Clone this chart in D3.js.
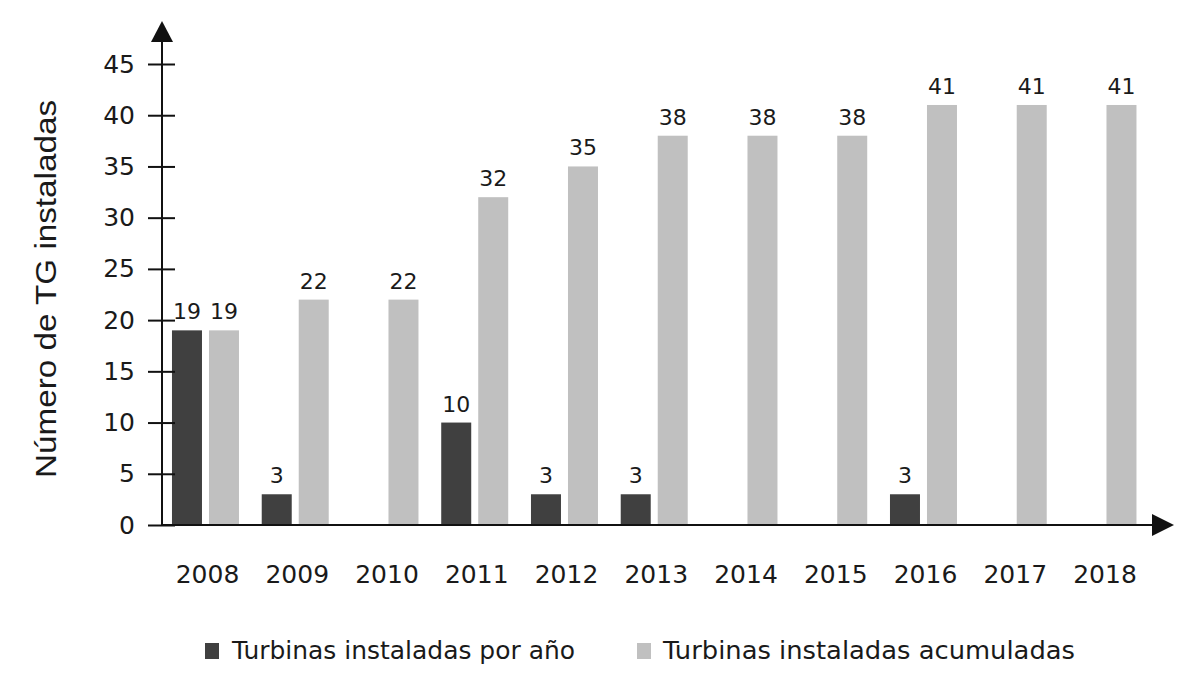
<!DOCTYPE html>
<html>
<head>
<meta charset="utf-8">
<script src="https://cdn.jsdelivr.net/npm/d3@7"></script>
<style>
  body { margin: 0; background: #fff; }
  svg { display: block; }
  .tick text { font-family: "DejaVu Sans", Verdana, sans-serif; fill: #1a1a1a; }
</style>
</head>
<body>
<div id="chart"></div>
<script>
const years = ["2008", "2009", "2010", "2011", "2012", "2013", "2014", "2015", "2016", "2017", "2018"];
const porAno = [19, 3, 0, 10, 3, 3, 0, 0, 3, 0, 0];
const acumuladas = [19, 22, 22, 32, 35, 38, 38, 38, 41, 41, 41];
const yTicks = [0, 5, 10, 15, 20, 25, 30, 35, 40, 45];
const seriesNames = ["Turbinas instaladas por año", "Turbinas instaladas acumuladas"];
const seriesColors = ["#404040", "#c0c0c0"];

const width = 1185;
const height = 691;
const axisX = 162;
const axisY = 525;

const data = years.map(function(y, i) {
	return { year: y, values: [porAno[i], acumuladas[i]] };
});

const svg = d3.select("#chart").append("svg")
		.attr("width", width)
		.attr("height", height);

const x = d3.scaleBand()
		.domain(years)
		.range([axisX - 1.4, axisX - 1.4 + 89.75 * years.length]);

const xSub = d3.scaleBand()
		.domain([0, 1])
		.range([-33.5, 33.5])
		.paddingInner(7 / 37);

const y = d3.scaleLinear()
		.domain([0, 45])
		.range([axisY, 64]);

// bars
const groups = svg.append("g")
	.selectAll("g")
	.data(data).enter()
	.append("g")
		.attr("transform", function(d) { return `translate(${x(d.year) + x.bandwidth() / 2}, 0)`; });

groups.selectAll("rect")
	.data(function(d) { return d.values.map(function(v, k) { return { k: k, v: v }; }); })
	.enter().append("rect")
		.attr("x", function(d) { return xSub(d.k); })
		.attr("width", xSub.bandwidth())
		.attr("y", function(d) { return y(d.v); })
		.attr("height", function(d) { return y(0) - y(d.v); })
		.style("fill", function(d) { return seriesColors[d.k]; });

groups.selectAll("text")
	.data(function(d) { return d.values.map(function(v, k) { return { k: k, v: v }; }).filter(function(d) { return d.v > 0; }); })
	.enter().append("text")
		.attr("x", function(d) { return xSub(d.k) + xSub.bandwidth() / 2; })
		.attr("y", function(d) { return y(d.v) - 11; })
		.attr("text-anchor", "middle")
		.style("font-family", "'DejaVu Sans', Verdana, sans-serif")
		.style("font-size", "22px")
		.style("fill", "#1a1a1a")
		.text(function(d) { return d.v; });

// y axis
const yAxis = svg.append("g")
		.attr("transform", `translate(${axisX}, 0)`)
		.call(d3.axisLeft(y).tickValues(yTicks).tickSize(14).tickPadding(13));
yAxis.select(".domain").remove();
yAxis.selectAll(".tick line")
		.attr("x1", 13)
		.attr("stroke", "#111")
		.attr("stroke-width", 2);
yAxis.selectAll(".tick text")
		.style("font-size", "25px");

// x axis
const xAxis = svg.append("g")
		.attr("transform", `translate(0, ${axisY})`)
		.call(d3.axisBottom(x).tickSize(0));
xAxis.select(".domain").remove();
xAxis.selectAll(".tick text")
		.attr("y", 58)
		.attr("dy", null)
		.attr("dx", 2)
		.style("font-size", "25px");

// axis lines with arrows
svg.append("line")
		.attr("x1", axisX).attr("y1", axisY + 1)
		.attr("x2", axisX).attr("y2", 40)
		.attr("stroke", "#111").attr("stroke-width", 2);
svg.append("line")
		.attr("x1", axisX - 1).attr("y1", axisY)
		.attr("x2", 1155).attr("y2", axisY)
		.attr("stroke", "#111").attr("stroke-width", 2);
svg.append("path")
		.attr("d", d3.line()([[axisX - 11, 42], [axisX, 21], [axisX + 11, 42]]) + "Z")
		.attr("fill", "#111");
svg.append("path")
		.attr("d", d3.line()([[1152, axisY - 11], [1174, axisY], [1152, axisY + 11]]) + "Z")
		.attr("fill", "#111");

// y title
svg.append("text")
		.attr("transform", "translate(56, 289) rotate(-90)")
		.attr("text-anchor", "middle")
		.attr("textLength", 378)
		.attr("lengthAdjust", "spacingAndGlyphs")
		.style("font-family", "'Liberation Sans', Arial, sans-serif")
		.style("font-size", "30px")
		.style("fill", "#1a1a1a")
		.text("Número de TG instaladas");

// legend
const legendX = [205, 637];
const legend = svg.append("g")
	.selectAll("g")
	.data(seriesNames).enter()
	.append("g")
		.attr("transform", function(d, i) { return `translate(${legendX[i]}, 643)`; });

legend.append("rect")
		.attr("width", 14)
		.attr("height", 16)
		.style("fill", function(d, i) { return seriesColors[i]; });

legend.append("text")
		.attr("x", function(d, i) { return i === 0 ? 27 : 26; })
		.attr("y", 16)
		.attr("textLength", function(d, i) { return i === 0 ? 343 : 412; })
		.attr("lengthAdjust", "spacingAndGlyphs")
		.style("font-family", "'DejaVu Sans', Verdana, sans-serif")
		.style("font-size", "24px")
		.style("fill", "#1a1a1a")
		.text(function(d) { return d; });
</script>
</body>
</html>
